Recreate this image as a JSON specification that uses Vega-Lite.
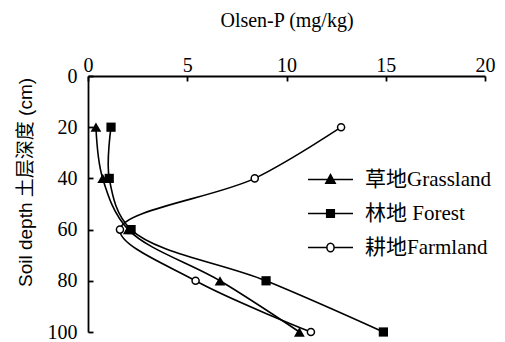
{
  "$schema": "https://vega.github.io/schema/vega-lite/v6.json",
  "width": 397,
  "height": 256,
  "autosize": "none",
  "padding": {"left": 88, "top": 76, "right": 20, "bottom": 10},
  "background": "white",
  "config": {
    "view": {"stroke": null},
    "font": "Liberation Serif",
    "legend": {"rowPadding": -5}
  },
  "data": {
    "values": [
      {"series": "草地Grassland", "depth": 20, "p": 0.4},
      {"series": "草地Grassland", "depth": 40, "p": 0.74},
      {"series": "草地Grassland", "depth": 60, "p": 2.03},
      {"series": "草地Grassland", "depth": 80, "p": 6.65},
      {"series": "草地Grassland", "depth": 100, "p": 10.65},
      {"series": "林地 Forest", "depth": 20, "p": 1.16},
      {"series": "林地 Forest", "depth": 40, "p": 1.07},
      {"series": "林地 Forest", "depth": 60, "p": 2.17},
      {"series": "林地 Forest", "depth": 80, "p": 8.97},
      {"series": "林地 Forest", "depth": 100, "p": 14.88},
      {"series": "耕地Farmland", "depth": 20, "p": 12.75},
      {"series": "耕地Farmland", "depth": 40, "p": 8.4},
      {"series": "耕地Farmland", "depth": 60, "p": 1.61},
      {"series": "耕地Farmland", "depth": 80, "p": 5.42},
      {"series": "耕地Farmland", "depth": 100, "p": 11.23}
    ]
  },
  "encoding": {
    "x": {
      "field": "p", "type": "quantitative",
      "scale": {"domain": [0, 20], "nice": false},
      "axis": {
        "orient": "top", "title": "Olsen-P (mg/kg)", "values": [0, 5, 10, 15, 20],
        "grid": false, "domainColor": "black", "domainWidth": 1.8, "tickColor": "black", "tickWidth": 1.8,
        "tickSize": -5, "labelPadding": 6, "labelFont": "Liberation Serif", "labelFontSize": 20,
        "labelColor": "black", "titleFont": "Liberation Serif", "titleFontSize": 20, "titleFontWeight": "normal",
        "titleColor": "black", "titlePadding": 25, "labelFlush": false
      }
    },
    "y": {
      "field": "depth", "type": "quantitative",
      "scale": {"domain": [0, 100], "reverse": true, "nice": false},
      "axis": {
        "title": "Soil depth  土层深度 (cm)", "values": [0, 20, 40, 60, 80, 100],
        "grid": false, "domainColor": "black", "domainWidth": 1.8, "tickColor": "black", "tickWidth": 1.8,
        "tickSize": -5, "labelPadding": 16, "labelFont": "Liberation Serif", "labelFontSize": 20,
        "labelColor": "black", "titleFont": "Liberation Sans, Noto Sans CJK SC", "titleFontSize": 19,
        "titleFontWeight": "normal", "titleColor": "black", "titlePadding": 12, "titleY": 106, "labelFlush": false
      }
    }
  },
  "layer": [
    {
      "mark": {"type": "line", "interpolate": "catmull-rom", "color": "black", "strokeWidth": 1.6},
      "encoding": {
        "detail": {"field": "series", "type": "nominal"},
        "order": {"field": "depth", "type": "quantitative"}
      }
    },
    {
      "transform": [{"filter": "indexof(datum.series,'Grassland')>=0"}],
      "mark": {"type": "point", "shape": "triangle-up", "filled": true, "color": "black", "opacity": 1, "size": 115}
    },
    {
      "transform": [{"filter": "indexof(datum.series,'Forest')>=0"}],
      "mark": {"type": "point", "shape": "square", "filled": true, "color": "black", "opacity": 1, "size": 85}
    },
    {
      "transform": [{"filter": "indexof(datum.series,'Farmland')>=0"}],
      "mark": {"type": "point", "shape": "circle", "filled": true, "fill": "white", "stroke": "black", "strokeWidth": 1.5, "opacity": 1, "size": 50}
    },
    {
      "mark": {"type": "point", "filled": true, "strokeWidth": 1.5, "opacity": 0, "size": 2025},
      "encoding": {
        "shape": {
          "field": "series", "type": "nominal",
          "scale": {
            "domain": ["草地Grassland", "林地 Forest", "耕地Farmland"],
            "range": [
              "M-1,0H1M0,-0.22L0.21,0.17L-0.21,0.17Z",
              "M-1,0H1M-0.17,-0.17H0.17V0.17H-0.17Z",
              "M-1,0H-0.16M0.16,0H1M0.16,0A0.16,0.19 0 1 1 -0.16,0A0.16,0.19 0 1 1 0.16,0"
            ]
          },
          "legend": {
            "title": null, "orient": "none", "legendX": 219, "legendY": 80,
            "symbolSize": 2025, "symbolStrokeWidth": 1.5, "symbolOpacity": 1,
            "labelFont": "Liberation Serif, Noto Sans CJK SC", "labelFontSize": 21, "labelColor": "black",
            "labelOffset": 11, "labelLimit": 300
          }
        },
        "fill": {
          "field": "series", "type": "nominal",
          "scale": {"domain": ["草地Grassland", "林地 Forest", "耕地Farmland"], "range": ["black", "black", "white"]},
          "legend": {
            "title": null, "orient": "none", "legendX": 219, "legendY": 80,
            "symbolSize": 2025, "symbolStrokeWidth": 1.5, "symbolOpacity": 1,
            "labelFont": "Liberation Serif, Noto Sans CJK SC", "labelFontSize": 21, "labelColor": "black",
            "labelOffset": 11, "labelLimit": 300
          }
        },
        "stroke": {
          "field": "series", "type": "nominal",
          "scale": {"domain": ["草地Grassland", "林地 Forest", "耕地Farmland"], "range": ["black", "black", "black"]},
          "legend": {
            "title": null, "orient": "none", "legendX": 219, "legendY": 80,
            "symbolSize": 2025, "symbolStrokeWidth": 1.5, "symbolOpacity": 1,
            "labelFont": "Liberation Serif, Noto Sans CJK SC", "labelFontSize": 21, "labelColor": "black",
            "labelOffset": 11, "labelLimit": 300
          }
        }
      }
    }
  ]
}
